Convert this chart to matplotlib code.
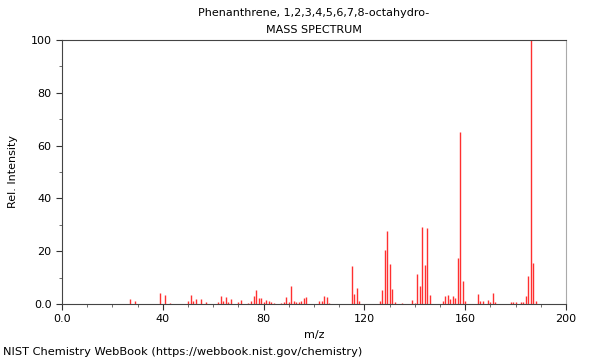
import matplotlib
matplotlib.use("Agg")
import matplotlib.pyplot as plt
from matplotlib.ticker import MultipleLocator, FixedLocator

title_line1 = "Phenanthrene, 1,2,3,4,5,6,7,8-octahydro-"
title_line2 = "MASS SPECTRUM"

mz = [27, 29, 39, 41, 43, 50, 51, 52, 53, 55, 57, 62, 63, 64, 65, 66, 67,
      70, 71, 74, 75, 76, 77, 78, 79, 80, 81, 82, 83, 84, 87, 88, 89, 90,
      91, 92, 93, 94, 95, 96, 97, 102, 103, 104, 105, 106,
      115, 116, 117, 118, 126, 127, 128, 129, 130, 131, 132, 135,
      139, 140, 141, 142, 143, 144, 145, 146,
      151, 152, 153, 154, 155, 156, 157, 158, 159, 160,
      165, 166, 167, 169, 170, 171, 172, 178, 179, 180, 182, 183,
      184, 185, 186, 187, 188]
intensity = [2.0, 1.3, 4.2, 3.4, 0.4, 1.0, 3.4, 1.1, 2.0, 1.9, 0.6, 0.6, 3.0, 1.3, 2.8, 0.6, 2.0,
             0.9, 1.4, 0.4, 1.0, 3.0, 5.4, 2.4, 2.3, 0.8, 1.6, 1.0, 0.6, 0.4, 0.5, 0.6, 2.8, 0.8,
             7.0, 1.2, 0.9, 0.8, 1.0, 2.1, 2.7, 1.0, 1.3, 2.9, 2.5, 0.4,
             14.5, 3.7, 6.0, 1.1, 1.0, 5.3, 20.3, 27.6, 15.0, 5.7, 0.9, 0.3,
             1.5, 0.5, 11.3, 6.8, 29.0, 14.8, 28.7, 3.3,
             1.1, 3.2, 3.3, 1.9, 2.9, 2.3, 17.3, 65.3, 8.7, 1.0,
             3.7, 1.1, 1.0, 1.5, 0.8, 4.0, 0.8, 0.7, 0.7, 0.8, 0.6, 0.8,
             3.2, 10.6, 100.0, 15.4, 1.3]

x_major = [0, 40, 80, 120, 160, 200]
x_labels = ["0.0", "40", "80", "120", "160", "200"]
y_major = [0, 20, 40, 60, 80, 100]
y_labels = ["0.0", "20", "40", "60", "80", "100"]

fig = plt.figure(figsize=(6, 3.6), dpi=100)
ax = fig.add_axes([62/600, 1 - 304/360, (566-62)/600, (304-40)/360])

ax.vlines(mz, 0, intensity, colors="#ff3030", linewidth=1.0)

ax.set_xlim(0, 200)
ax.set_ylim(0, 100)
ax.xaxis.set_major_locator(FixedLocator(x_major))
ax.set_xticklabels(x_labels)
ax.yaxis.set_major_locator(FixedLocator(y_major))
ax.set_yticklabels(y_labels)
ax.xaxis.set_minor_locator(MultipleLocator(10))
ax.yaxis.set_minor_locator(MultipleLocator(10))
ax.tick_params(axis="both", which="major", direction="out", length=4, width=0.8,
               labelsize=8, colors="#333333", labelcolor="black")
ax.tick_params(axis="both", which="minor", direction="out", length=2, width=0.6,
               colors="#555555")
for side in ["left", "right", "top", "bottom"]:
    ax.spines[side].set_linewidth(0.8)
    ax.spines[side].set_color("#444444")
ax.spines["right"].set_color("#aaaaaa")

ax.set_xlabel("m/z", fontsize=8)
ax.set_ylabel("Rel. Intensity", fontsize=8, labelpad=9)

cx = (62 + 566) / 2 / 600
fig.text(cx, 1 - 13/360, title_line1, ha="center", va="center", fontsize=8)
fig.text(cx, 1 - 30/360, title_line2, ha="center", va="center", fontsize=8)
fig.text(3/600, 1 - 352/360, "NIST Chemistry WebBook (https://webbook.nist.gov/chemistry)",
         ha="left", va="center", fontsize=8.2)

fig.savefig("out.png", dpi=100)
